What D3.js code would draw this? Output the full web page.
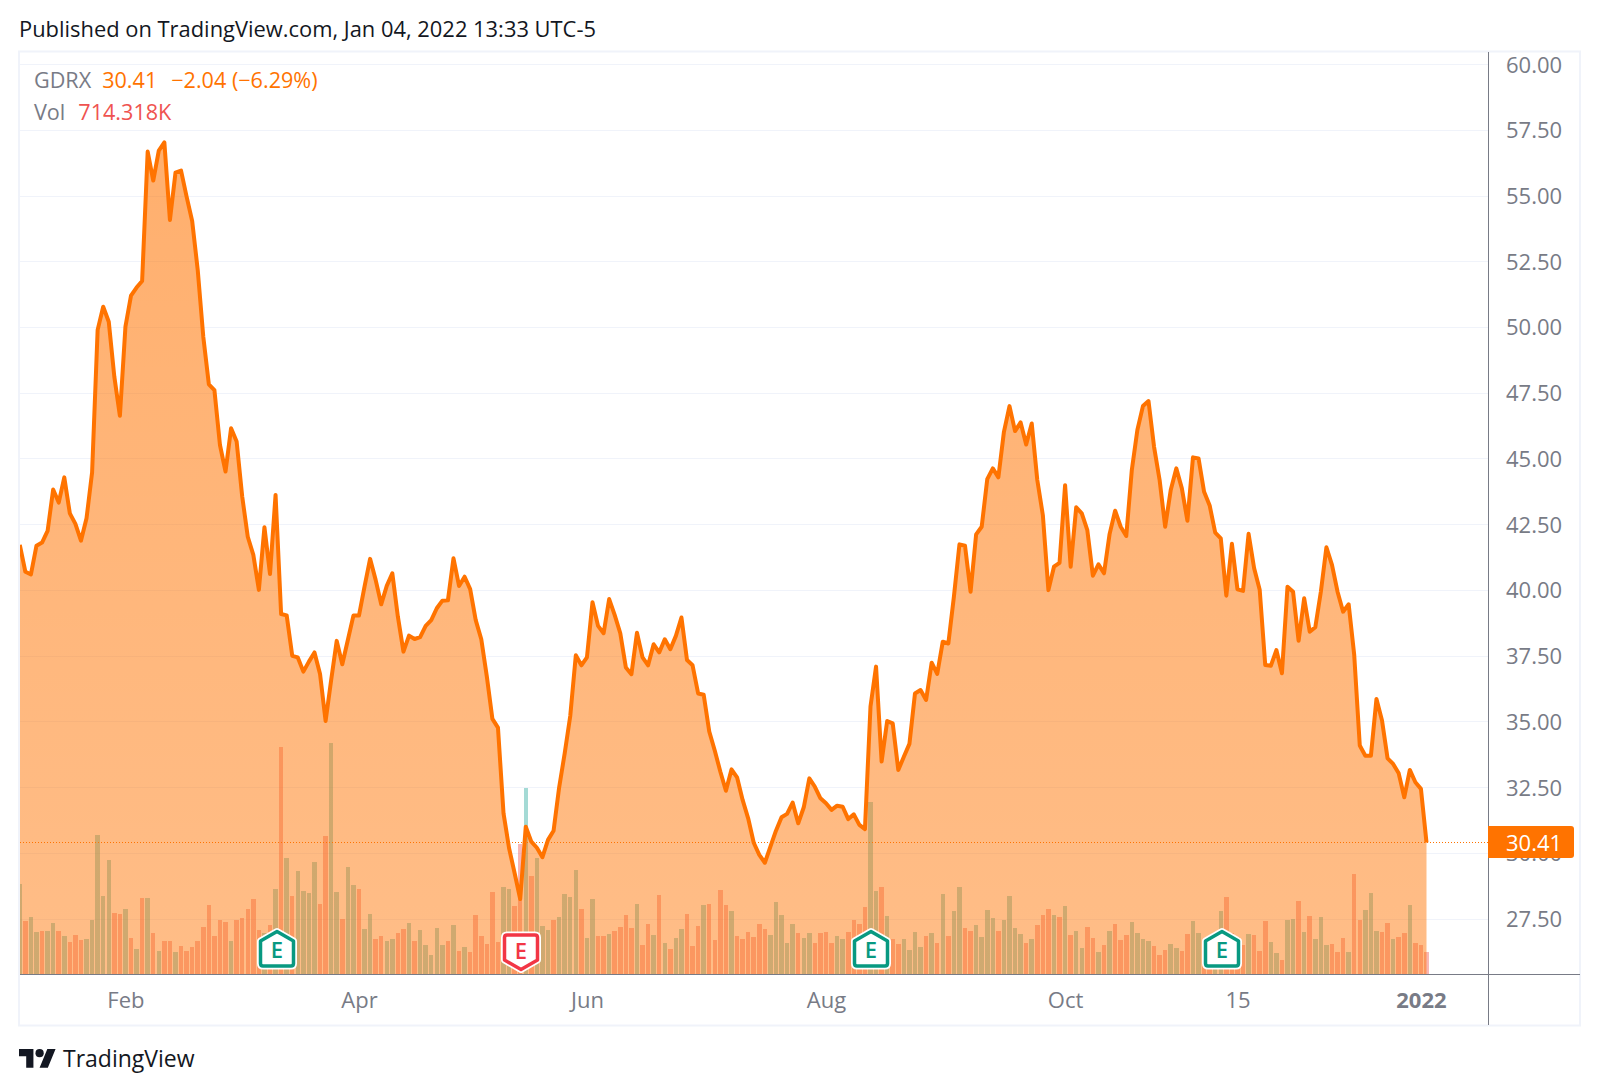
<!DOCTYPE html>
<html>
<head>
<meta charset="utf-8">
<title>GDRX</title>
<script src="https://cdnjs.cloudflare.com/ajax/libs/d3/7.8.5/d3.min.js"></script>
<style>
  html, body { margin: 0; padding: 0; background: #fff; }
  svg { display: block; }
  text { font-family: "Open Sans", "Noto Sans", sans-serif; }
  .axis path, .axis line { display: none; }
  .axis text { fill: #787b86; font-size: 22px; font-family: "Open Sans", "Noto Sans", sans-serif; }
</style>
</head>
<body>
<div id="chart"></div>
<script>
// ========================================
// DATA
// ========================================

// daily close, Jan 4 2021 .. Jan 4 2022
const closes = [
  41.73, 40.71, 40.61, 41.70, 41.82, 42.26, 43.84, 43.34, 44.30, 42.93,
  42.53, 41.89, 42.74, 44.48, 49.91, 50.79, 50.22, 48.13, 46.64, 50.03,
  51.21, 51.52, 51.77, 56.69, 55.59, 56.73, 57.04, 54.09, 55.89, 55.97,
  54.98, 54.05, 52.19, 49.65, 47.84, 47.62, 45.53, 44.52, 46.17, 45.66,
  43.57, 42.04, 41.35, 40.02, 42.40, 40.62, 43.63, 39.10, 39.05, 37.51,
  37.45, 36.91, 37.29, 37.64, 36.82, 35.03, 36.59, 38.08, 37.19, 38.11,
  39.04, 39.04, 40.14, 41.20, 40.40, 39.47, 40.17, 40.65, 39.00, 37.67,
  38.28, 38.15, 38.22, 38.65, 38.87, 39.32, 39.61, 39.62, 41.22, 40.17,
  40.52, 40.05, 38.87, 38.14, 36.72, 35.11, 34.78, 31.52, 30.19, 29.24,
  28.26, 31.01, 30.44, 30.21, 29.85, 30.51, 30.86, 32.50, 33.80, 35.22,
  37.53, 37.15, 37.45, 39.55, 38.65, 38.37, 39.67, 39.06, 38.37, 37.07,
  36.81, 38.39, 37.45, 37.15, 37.95, 37.64, 38.14, 37.76, 38.27, 38.97,
  37.35, 37.15, 36.08, 36.03, 34.63, 33.90, 33.10, 32.38, 33.19, 32.89,
  32.03, 31.33, 30.40, 29.94, 29.64, 30.25, 30.86, 31.37, 31.50, 31.93,
  31.14, 31.75, 32.85, 32.53, 32.09, 31.90, 31.65, 31.81, 31.77, 31.30,
  31.48, 31.08, 30.92, 35.58, 37.10, 33.49, 35.03, 34.94, 33.17, 33.67,
  34.16, 36.08, 36.21, 35.83, 37.25, 36.82, 38.05, 37.98, 39.76, 41.75,
  41.70, 39.95, 42.13, 42.42, 44.23, 44.64, 44.30, 46.03, 47.01, 46.06,
  46.39, 45.55, 46.35, 44.20, 42.86, 40.01, 40.90, 41.05, 44.00, 40.90,
  43.16, 42.93, 42.29, 40.56, 40.99, 40.65, 42.14, 43.03, 42.42, 42.07,
  44.58, 46.10, 47.01, 47.20, 45.46, 44.20, 42.42, 43.82, 44.64, 43.88,
  42.65, 45.06, 45.02, 43.75, 43.23, 42.20, 41.98, 39.80, 41.77, 40.04,
  39.98, 42.15, 40.84, 40.02, 37.16, 37.13, 37.73, 36.85, 40.14, 39.95,
  38.08, 39.70, 38.43, 38.60, 39.95, 41.64, 40.97, 39.95, 39.19, 39.47,
  37.54, 34.10, 33.71, 33.71, 35.87, 35.05, 33.61, 33.40, 33.04, 32.13,
  33.17, 32.70, 32.45, 30.41
];

// daily volume in thousands
const volumes = [
  2921, 1720, 1850, 1363, 1396, 1396, 1655, 1396, 1233, 1039,
  1266, 1104, 1136, 1753, 4512, 2532, 3700, 1980, 1948, 2110,
  1169, 812, 2467, 2467, 1331, 747, 1071, 1071, 714, 909,
  747, 876, 1071, 1526, 2240, 1233, 1753, 1688, 1071, 1753,
  1818, 2110, 2435, 1428, 1320, 1591, 2759, 7368, 3765, 2532,
  3343, 2694, 2629, 3636, 2272, 4479, 7498, 2662, 1785, 3473,
  2889, 2759, 1461, 1948, 1136, 1233, 1071, 1136, 1331, 1461,
  1655, 1071, 1428, 941, 617, 1493, 941, 1071, 1591, 747,
  876, 714, 1915, 1233, 974, 2662, 1039, 2824, 2759, 2207,
  4220, 6038, 3181, 3765, 1558, 1428, 1753, 1850, 2597, 2499,
  3376, 2110, 1169, 2435, 1233, 1233, 1298, 1396, 1526, 1915,
  1493, 2272, 941, 1623, 1266, 2564, 1006, 812, 1169, 1461,
  1948, 909, 1558, 2240, 2272, 1104, 2727, 2240, 2045, 1233,
  1136, 1363, 1201, 1623, 1461, 1266, 2337, 1915, 1006, 1623,
  1331, 1169, 1331, 1006, 1331, 1363, 1006, 1233, 1136, 1363,
  1753, 1623, 2175, 5583, 2694, 2824, 1883, 1136, 974, 1136,
  779, 1363, 876, 1233, 1331, 1006, 2597, 1233, 2045, 2824,
  1493, 1396, 1591, 1201, 2077, 1818, 1396, 1753, 2532, 1493,
  1298, 1006, 1136, 1591, 1915, 2110, 1915, 1850, 2207, 1266,
  1396, 844, 1526, 1169, 714, 941, 1396, 1623, 1104, 1266,
  1688, 1331, 1136, 1071, 909, 617, 779, 974, 844, 747,
  1298, 1720, 1331, 1104, 1104, 1320, 2045, 2499, 1320, 1212,
  941, 1298, 1266, 747, 1720, 1039, 682, 454, 1753, 1785,
  2370, 1363, 1883, 1136, 1850, 941, 974, 714, 1169, 714,
  3246, 1753, 2077, 2629, 1396, 1363, 1655, 1136, 1201, 1331,
  2240, 1006, 941, 714
];

// u = up day, d = down day, one character per session
const volumeDirs = [
  "uduuduudud", "dduuuuuddu", "dudududdud", "ddddddddud", "ddddududud",
  "uuuudduudu", "uduudduudd", "uduuuuudud", "udddddduud", "duduuuduuu",
  "uduudduddd", "duddududuu", "ddduddddud", "ddddduuuuu", "duudddduud",
  "ddduududdu", "uuudududuu", "dduuuuduuu", "ududddudud", "uuddududdd",
  "uuuuddduud", "duudduuddd", "duddduuduu", "duduuudddu", "dduuuddudd",
  "uddd"
].join("").split("");

const yTicks = [27.5, 30, 32.5, 35, 37.5, 40, 42.5, 45, 47.5, 50, 52.5, 55, 57.5, 60];
const xTickIndex = [19, 61, 102, 145, 188, 219, 252];
const xTickLabels = ["Feb", "Apr", "Jun", "Aug", "Oct", "15", "2022"];

// sessions with an earnings flag, true = beat (teal, points up)
const earningsIndex = [46, 90, 153, 216];
const earningsBeat = [true, false, true, true];

// ========================================
// LAYOUT AND SCALES
// ========================================

const width = 1599, height = 1092;
const paneLeft = 19, paneRight = 1488, paneBottom = 974;
const orange = "#ff7300";

const x = d3.scaleLinear().domain([0, 253]).range([19.8, 1426.5]);
const y = d3.scaleLinear().domain([27.5, 60]).range([919.0, 64.6]);
const yVol = d3.scaleLinear().domain([0, 7500]).range([paneBottom, paneBottom - 231]);

const svg = d3.select("#chart").append("svg")
  .attr("width", width)
  .attr("height", height);

const defs = svg.append("defs");

defs.append("clipPath").attr("id", "pane")
  .append("rect")
  .attr("x", paneLeft + 1)
  .attr("y", 52)
  .attr("width", paneRight - paneLeft - 1)
  .attr("height", paneBottom - 52);

let gradient = defs.append("linearGradient")
  .attr("id", "areaFill")
  .attr("gradientUnits", "userSpaceOnUse")
  .attr("x1", 0).attr("x2", 0)
  .attr("y1", y(57)).attr("y2", paneBottom);
gradient.append("stop").attr("offset", 0).attr("stop-color", orange).attr("stop-opacity", 0.57);
gradient.append("stop").attr("offset", 1).attr("stop-color", orange).attr("stop-opacity", 0.47);

// ========================================
// FRAME AND GRID
// ========================================

svg.append("rect")
  .attr("x", 19).attr("y", 51.5)
  .attr("width", 1561).attr("height", 974)
  .attr("fill", "none")
  .attr("stroke", "#f0f3fa")
  .attr("stroke-width", 2);

svg.append("g").selectAll("line")
  .data(yTicks)
  .join("line")
  .attr("x1", paneLeft + 1)
  .attr("x2", paneRight)
  .attr("y1", (d) => Math.floor(y(d)) + 0.5)
  .attr("y2", (d) => Math.floor(y(d)) + 0.5)
  .attr("stroke", "#f0f3fa");

// ========================================
// VOLUME, AREA, LINE
// ========================================

const plot = svg.append("g").attr("clip-path", "url(#pane)");

plot.append("g").selectAll("rect")
  .data(volumes)
  .join("rect")
  .attr("x", (d, i) => Math.round(x(i) - 2.25))
  .attr("width", (d, i) => Math.round(x(i) + 2.25) - Math.round(x(i) - 2.25))
  .attr("y", (d) => Math.round(yVol(d)))
  .attr("height", (d) => paneBottom - Math.round(yVol(d)))
  .attr("fill", (d, i) => volumeDirs[i] === "u" ? "#26a69a" : "#ef5350")
  .attr("fill-opacity", 0.42);

const area = d3.area()
  .x((d, i) => x(i))
  .y0(paneBottom)
  .y1((d) => y(d));

const line = d3.line()
  .x((d, i) => x(i))
  .y((d) => y(d));

plot.append("path")
  .attr("d", area(closes))
  .attr("fill", "url(#areaFill)");

plot.append("path")
  .attr("d", line(closes))
  .attr("fill", "none")
  .attr("stroke", orange)
  .attr("stroke-width", 4)
  .attr("stroke-linejoin", "round");

// last price line
const lastClose = closes[closes.length - 1];
svg.append("line")
  .attr("x1", paneLeft + 1)
  .attr("x2", paneRight)
  .attr("y1", Math.floor(y(lastClose)) + 0.5)
  .attr("y2", Math.floor(y(lastClose)) + 0.5)
  .attr("stroke", orange)
  .attr("stroke-dasharray", "1 2");

// ========================================
// AXES
// ========================================

svg.append("line")
  .attr("x1", paneRight + 0.5).attr("x2", paneRight + 0.5)
  .attr("y1", 52).attr("y2", 1025)
  .attr("stroke", "#787b86");

svg.append("line")
  .attr("x1", paneLeft + 1).attr("x2", 1580)
  .attr("y1", paneBottom + 0.5).attr("y2", paneBottom + 0.5)
  .attr("stroke", "#787b86");

svg.append("g")
  .attr("class", "axis")
  .attr("transform", "translate(1506,0.4)")
  .call(d3.axisRight(y).tickValues(yTicks).tickFormat(d3.format(".2f")).tickSize(0).tickPadding(0));

svg.append("g")
  .attr("class", "axis")
  .attr("transform", "translate(0," + (paneBottom + 18) + ")")
  .call(d3.axisBottom(x).tickValues(xTickIndex).tickFormat((d, i) => xTickLabels[i]).tickSize(0).tickPadding(0))
  .selectAll("text")
  .style("font-weight", (d, i) => xTickLabels[i] === "2022" ? 700 : 400);

// last price tag, sits over the 30.00 tick label
svg.append("path")
  .attr("d", "M1488,826H1571a3,3 0 0 1 3,3V855a3,3 0 0 1 -3,3H1488Z")
  .attr("fill", orange);

svg.append("text")
  .attr("x", 1506)
  .attr("y", y(lastClose) + 1)
  .attr("dy", "0.35em")
  .attr("fill", "#fff")
  .attr("font-size", 22)
  .attr("font-weight", 500)
  .text(d3.format(".2f")(lastClose));

// ========================================
// EARNINGS FLAGS
// ========================================

function flagPath(up) {
  return up
    ? "M0,-18.5L16.5,-9V13.5Q16.5,16 14,16H-14Q-16.5,16 -16.5,13.5V-9Z"
    : "M-14,-16H14Q16.5,-16 16.5,-13.5V9L0,18.5L-16.5,9V-13.5Q-16.5,-16 -14,-16Z";
}

const flags = svg.append("g").selectAll("g")
  .data(earningsIndex)
  .join("g")
  .attr("transform", (d, i) => "translate(" + (Math.round(x(d)) + 1) + "," + (earningsBeat[i] ? 950 : 951) + ")");

flags.append("path")
  .attr("d", (d, i) => flagPath(earningsBeat[i]))
  .attr("fill", "#fff")
  .attr("stroke", "#fff")
  .attr("stroke-width", 7)
  .attr("stroke-linejoin", "round");

flags.append("path")
  .attr("d", (d, i) => flagPath(earningsBeat[i]))
  .attr("fill", "#fff")
  .attr("stroke", (d, i) => earningsBeat[i] ? "#089981" : "#f23645")
  .attr("stroke-width", 3.5)
  .attr("stroke-linejoin", "round");

flags.append("text")
  .attr("text-anchor", "middle")
  .attr("y", 8)
  .attr("font-size", 22)
  .attr("font-weight", 600)
  .attr("fill", (d, i) => earningsBeat[i] ? "#089981" : "#f23645")
  .text("E");

// ========================================
// HEADER, LEGEND, FOOTER
// ========================================

svg.append("text")
  .attr("x", 19).attr("y", 37)
  .attr("font-size", 21.9)
  .attr("fill", "#131722")
  .text("Published on TradingView.com, Jan 04, 2022 13:33 UTC-5");

const legend1 = svg.append("text").attr("x", 34).attr("y", 88).attr("font-size", 21.6);
legend1.append("tspan").attr("fill", "#787b86").text("GDRX");
legend1.append("tspan").attr("dx", 11).attr("fill", orange).text("30.41");
legend1.append("tspan").attr("dx", 14).attr("fill", orange).text("−2.04 (−6.29%)");

const legend2 = svg.append("text").attr("x", 34).attr("y", 120).attr("font-size", 21.6);
legend2.append("tspan").attr("fill", "#787b86").text("Vol");
legend2.append("tspan").attr("dx", 13).attr("fill", "#ef5350").text("714.318K");

// TradingView mark
const logo = svg.append("g")
  .attr("transform", "translate(19,1045) scale(1.03)")
  .attr("fill", "#131722");
logo.append("path").attr("d", "M14 22H7V11H0V4h14v18zM28 22h-8l7.5-18h8L28 22z");
logo.append("circle").attr("cx", 20).attr("cy", 8).attr("r", 4);

svg.append("text")
  .attr("x", 63).attr("y", 1067)
  .attr("font-size", 23)
  .attr("fill", "#131722")
  .text("TradingView");
</script>
</body>
</html>
